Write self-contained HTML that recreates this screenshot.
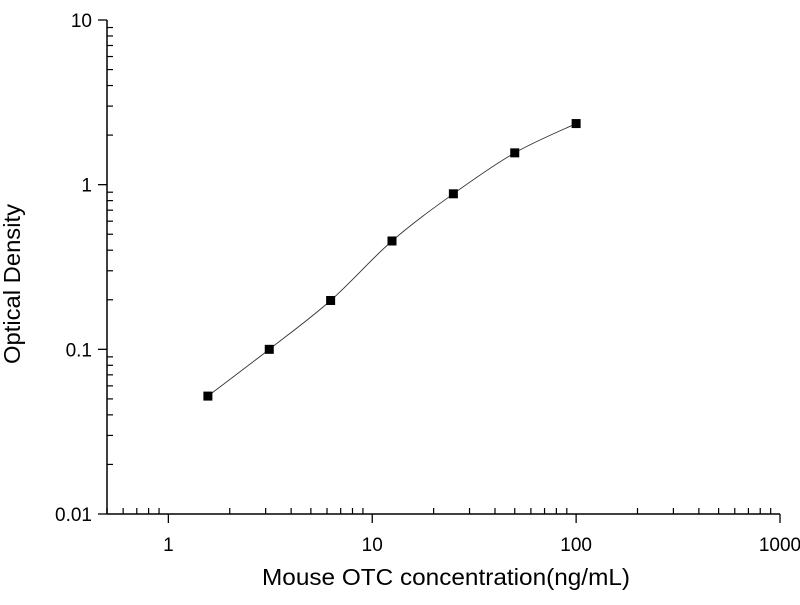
<!DOCTYPE html>
<html><head><meta charset="utf-8"><style>
body{margin:0;background:#fff;}
svg text{font-family:"Liberation Sans",Arial,sans-serif;fill:#000;}
</style></head><body>
<svg id="chart" width="800" height="600" xmlns="http://www.w3.org/2000/svg">
<g id="axes"></g>
<g id="series"></g>
<text x="446" y="585" font-size="23" text-anchor="middle" textLength="368" lengthAdjust="spacingAndGlyphs">Mouse OTC concentration(ng/mL)</text>
<text transform="translate(20,284) rotate(-90)" font-size="23" text-anchor="middle" textLength="160" lengthAdjust="spacingAndGlyphs">Optical Density</text>
</svg>
<script>
const concentrations = [1.5625, 3.125, 6.25, 12.5, 25, 50, 100];
const odValues = [0.052, 0.100, 0.198, 0.455, 0.88, 1.56, 2.35];
const xTickLabels = ["1", "10", "100", "1000"];
const yTickLabels = ["0.01", "0.1", "1", "10"];

const L=107,R=780,T=20,B=514;
const xMin=Math.log10(0.5),xMax=3,yMin=-2,yMax=1;
const xs=v=>L+(Math.log10(v)-xMin)/(xMax-xMin)*(R-L);
const ys=v=>B-(Math.log10(v)-yMin)/(yMax-yMin)*(B-T);
const NS="http://www.w3.org/2000/svg";
const axes=document.getElementById('axes');
const series=document.getElementById('series');
function mk(tag,at,parent){const e=document.createElementNS(NS,tag);for(const k in at)e.setAttribute(k,at[k]);parent.appendChild(e);return e;}

let e=mk('line',{x1:L,y1:T,x2:L,y2:B,stroke:'#000','stroke-width':1.5},axes);


e=mk('line',{x1:L,y1:B,x2:R,y2:B,stroke:'#000','stroke-width':1.5},axes);



for(let d=-1;d<=2;d++){for(let m=2;m<=9;m++){const v=m*Math.pow(10,d);if(v<0.5||v>1000)continue;
 e=mk('line',{x1:xs(v),y1:B,x2:xs(v),y2:B-6,stroke:'#000','stroke-width':1.2},axes);
 
 }}
xTickLabels.forEach(t=>{const v=parseFloat(t);
 e=mk('line',{x1:xs(v),y1:B,x2:xs(v),y2:B+9,stroke:'#000','stroke-width':1.3},axes);
 
 
 e=mk('text',{x:xs(v),y:B+37,'font-size':19,'text-anchor':'middle'},axes);e.textContent=t;
 
 });
e=mk('line',{x1:L,y1:B,x2:L,y2:B-6,stroke:'#000','stroke-width':1.2},axes);



for(let d=-2;d<=0;d++){for(let m=2;m<=9;m++){const v=m*Math.pow(10,d);
 e=mk('line',{x1:L,y1:ys(v),x2:L+6,y2:ys(v),stroke:'#000','stroke-width':1.2},axes);
 
 }}
yTickLabels.forEach(t=>{const v=parseFloat(t);
 e=mk('line',{x1:L,y1:ys(v),x2:L-9,y2:ys(v),stroke:'#000','stroke-width':1.3},axes);
 
 
 e=mk('text',{x:L-15,y:ys(v)+7,'font-size':19,'text-anchor':'end'},axes);e.textContent=t;
 
 });

const P=concentrations.map((c,i)=>[xs(c),ys(odValues[i])]);
let d=`M${P[0][0]},${P[0][1]}`;
for(let i=0;i<P.length-1;i++){const p0=P[Math.max(0,i-1)],p1=P[i],p2=P[i+1],p3=P[Math.min(P.length-1,i+2)];
 const c1=[p1[0]+(p2[0]-p0[0])/6,p1[1]+(p2[1]-p0[1])/6],c2=[p2[0]-(p3[0]-p1[0])/6,p2[1]-(p3[1]-p1[1])/6];
 d+=` C${c1[0]},${c1[1]} ${c2[0]},${c2[1]} ${p2[0]},${p2[1]}`;}
e=mk('path',{d:d,fill:'none',stroke:'#333','stroke-width':0.9},series);


P.forEach(p=>{e=mk('rect',{x:p[0]-4.5,y:p[1]-4.5,width:9,height:9,fill:'#000'},series);
 
 });
</script>
</body></html>
